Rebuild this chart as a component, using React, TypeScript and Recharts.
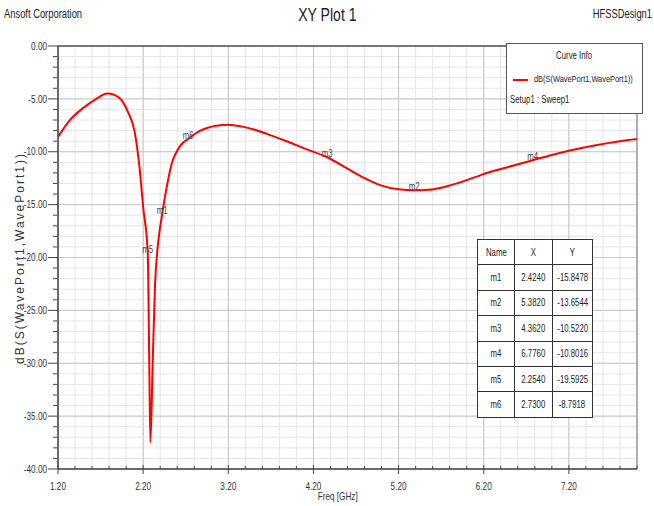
import { LineChart, Line, XAxis, YAxis, CartesianGrid, ReferenceLine, ReferenceDot } from "recharts";

// S11 sweep (GHz, dB)
const freqs = [
  1.2, 1.34, 1.49, 1.65, 1.78, 1.92, 2.02, 2.1, 2.16, 2.2, 2.254, 2.272, 2.285, 2.312, 2.34, 2.367, 2.395,
  2.424, 2.48, 2.54, 2.6, 2.66, 2.73, 2.85, 2.95, 3.1, 3.2, 3.35, 3.5, 3.7, 3.9, 4.1, 4.362, 4.6,
  4.8, 5.0, 5.2, 5.382, 5.55, 5.7, 5.9, 6.1, 6.3, 6.55, 6.776, 7.0, 7.2, 7.5, 7.8, 8.0,
];
const dbValues = [
  -8.6, -7.0, -5.9, -5.0, -4.5, -4.9, -6.2, -8.1, -11.7, -15.2, -19.59, -30.0, -37.5, -30.0, -22.5, -19.3, -17.4,
  -15.85, -13.2, -11.0, -9.9, -9.2, -8.79, -8.1, -7.75, -7.5, -7.45, -7.6, -7.9, -8.45, -9.05, -9.7, -10.52, -11.6,
  -12.5, -13.2, -13.55, -13.65, -13.6, -13.4, -12.95, -12.4, -11.85, -11.3, -10.8, -10.3, -9.9, -9.4, -9.0, -8.8,
];

const markerNames = ["m1", "m2", "m3", "m4", "m5", "m6"];
const markerX = [2.424, 5.382, 4.362, 6.776, 2.254, 2.73];
const markerY = [-15.8478, -13.6544, -10.522, -10.8016, -19.5925, -8.7918];
const markerXText = ["2.4240", "5.3820", "4.3620", "6.7760", "2.2540", "2.7300"];
const markerYText = ["-15.8478", "-13.6544", "-10.5220", "-10.8016", "-19.5925", "-8.7918"];

const xMajorTicks = [1.2, 2.2, 3.2, 4.2, 5.2, 6.2, 7.2];
const yMajorTicks = [0, -5, -10, -15, -20, -25, -30, -35, -40];
const xMinor = Array.from({ length: 35 }, (_, i) => Math.round((1.2 + i * 0.2) * 10) / 10);
const yMinor = Array.from({ length: 41 }, (_, i) => -i);

const data = freqs.map((f, i) => ({ freq: f, db: dbValues[i] }));

const font = "'Liberation Sans', Arial, sans-serif";
const SQ = 0.78; // squeeze to fake the narrow font of the original

function XTick(props: any) {
  const { x, y, payload } = props;
  const v = payload.value;
  const major = xMajorTicks.some((t) => Math.abs(t - v) < 1e-6);
  return (
    <g>
      <line x1={x} x2={x} y1={major ? y - 4 : y - 3} y2={major ? y + 5 : y} stroke="#444" />
      {major && (
        <text
          transform={`translate(${x} ${y + 21}) scale(${SQ} 1)`}
          textAnchor="middle"
          fontSize={10.5}
          fontFamily={font}
          fill="#333"
        >
          {v.toFixed(2)}
        </text>
      )}
    </g>
  );
}

function YTick(props: any) {
  const { x, y, payload } = props;
  const v = payload.value;
  const major = yMajorTicks.some((t) => Math.abs(t - v) < 1e-6);
  return (
    <g>
      <line x1={major ? x - 10 : x - 5} x2={major ? x : x - 1} y1={y} y2={y} stroke="#444" />
      {major && (
        <text
          transform={`translate(${x - 11} ${y}) scale(${SQ} 1)`}
          dy="0.35em"
          textAnchor="end"
          fontSize={10.5}
          fontFamily={font}
          fill="#333"
        >
          {v.toFixed(2)}
        </text>
      )}
    </g>
  );
}

function Narrow({ children, origin = "left" }: { children: any; origin?: string }) {
  return (
    <span style={{ display: "inline-block", whiteSpace: "nowrap", transform: `scaleX(${SQ})`, transformOrigin: origin }}>
      {children}
    </span>
  );
}

const cell: React.CSSProperties = {
  border: "1px solid #333",
  textAlign: "center",
  padding: 0,
  height: 24.4,
  fontFamily: font,
  fontSize: 10,
  color: "#222",
};

export default function App() {
  return (
    <div style={{ position: "absolute", left: 0, top: 0, width: 654, height: 506, background: "#fff" }}>
      <LineChart width={654} height={506} data={data} margin={{ top: 46, right: 17, bottom: 0, left: 0 }}>
        <CartesianGrid stroke="#e6e6e6" verticalValues={xMinor} horizontalValues={yMinor} />
        <CartesianGrid stroke="#c6c6c6" verticalValues={xMajorTicks} horizontalValues={yMajorTicks} />
        <XAxis
          dataKey="freq"
          type="number"
          domain={[1.2, 8.0]}
          ticks={xMinor}
          interval={0}
          height={37}
          tickSize={0}
          tickMargin={0}
          tickLine={false}
          tick={<XTick />}
          axisLine={{ stroke: "#444", strokeWidth: 1.5 }}
          allowDataOverflow
        />
        <YAxis
          type="number"
          domain={[-40, 0]}
          ticks={yMinor}
          interval={0}
          width={58}
          tickSize={0}
          tickMargin={0}
          tickLine={false}
          tick={<YTick />}
          axisLine={{ stroke: "#444", strokeWidth: 1.5 }}
          allowDataOverflow
        />
        <ReferenceLine y={0} stroke="#555" strokeWidth={1.5} />
        <ReferenceLine x={8.0} stroke="#999" strokeWidth={1.5} />
        <Line
          type="monotone"
          dataKey="db"
          stroke="#ff0000"
          strokeWidth={2}
          dot={false}
          isAnimationActive={false}
        />
        {markerNames.map((m, i) => (
          <ReferenceDot
            key={m}
            x={markerX[i]}
            y={markerY[i]}
            r={0}
            shape={(p: any) => (
              <text
                transform={`translate(${p.cx} ${p.cy}) scale(${SQ} 1)`}
                textAnchor="middle"
                fontSize={10}
                fontFamily={font}
                fill="#444"
              >
                {m}
              </text>
            )}
          />
        ))}
      </LineChart>

      <div style={{ position: "absolute", left: 4, top: 7, fontFamily: font, fontSize: 12, color: "#222" }}>
        <Narrow>Ansoft Corporation</Narrow>
      </div>
      <div
        style={{
          position: "absolute",
          left: 0,
          width: 654,
          top: 5,
          textAlign: "center",
          fontFamily: font,
          fontSize: 18,
          color: "#222",
        }}
      >
        <Narrow origin="center">XY Plot 1</Narrow>
      </div>
      <div
        style={{
          position: "absolute",
          right: 2,
          top: 7,
          fontFamily: font,
          fontSize: 12,
          color: "#222",
          textAlign: "right",
        }}
      >
        <Narrow origin="right">HFSSDesign1</Narrow>
      </div>

      <div
        style={{
          position: "absolute",
          left: 20,
          top: 258,
          transform: "translate(-50%, -50%) rotate(-90deg)",
          whiteSpace: "nowrap",
          fontFamily: font,
          fontSize: 12,
          letterSpacing: 2,
          color: "#333",
        }}
      >
        dB(S(WavePort1,WavePort1))
      </div>
      <div
        style={{
          position: "absolute",
          left: 298,
          width: 80,
          top: 490,
          textAlign: "center",
          fontFamily: font,
          fontSize: 10.5,
          color: "#333",
        }}
      >
        <Narrow origin="center">Freq [GHz]</Narrow>
      </div>

      <div
        style={{
          position: "absolute",
          left: 506,
          top: 43,
          width: 135,
          height: 69,
          border: "1px solid #555",
          background: "#fff",
          fontFamily: font,
          fontSize: 10,
          color: "#222",
        }}
      >
        <div style={{ position: "absolute", left: 0, width: 135, top: 6, textAlign: "center" }}>
          <Narrow origin="center">Curve Info</Narrow>
        </div>
        <div style={{ position: "absolute", left: 6, top: 35, width: 15, height: 2, background: "#ff0000" }} />
        <div style={{ position: "absolute", left: 27, top: 29, fontSize: 9.5 }}>
          <Narrow>dB(S(WavePort1,WavePort1))</Narrow>
        </div>
        <div style={{ position: "absolute", left: 3, top: 50 }}>
          <Narrow>Setup1 : Sweep1</Narrow>
        </div>
      </div>

      <table
        style={{
          position: "absolute",
          left: 477,
          top: 239,
          width: 116,
          borderCollapse: "collapse",
          background: "#fff",
        }}
      >
        <tbody>
          <tr>
            <td style={{ ...cell, width: 40 }}>
              <Narrow origin="center">Name</Narrow>
            </td>
            <td style={{ ...cell, width: 38 }}>
              <Narrow origin="center">X</Narrow>
            </td>
            <td style={{ ...cell, width: 38 }}>
              <Narrow origin="center">Y</Narrow>
            </td>
          </tr>
          {markerNames.map((m, i) => (
            <tr key={m}>
              <td style={cell}>
                <Narrow origin="center">{m}</Narrow>
              </td>
              <td style={cell}>
                <Narrow origin="center">{markerXText[i]}</Narrow>
              </td>
              <td style={cell}>
                <Narrow origin="center">{markerYText[i]}</Narrow>
              </td>
            </tr>
          ))}
        </tbody>
      </table>
    </div>
  );
}
